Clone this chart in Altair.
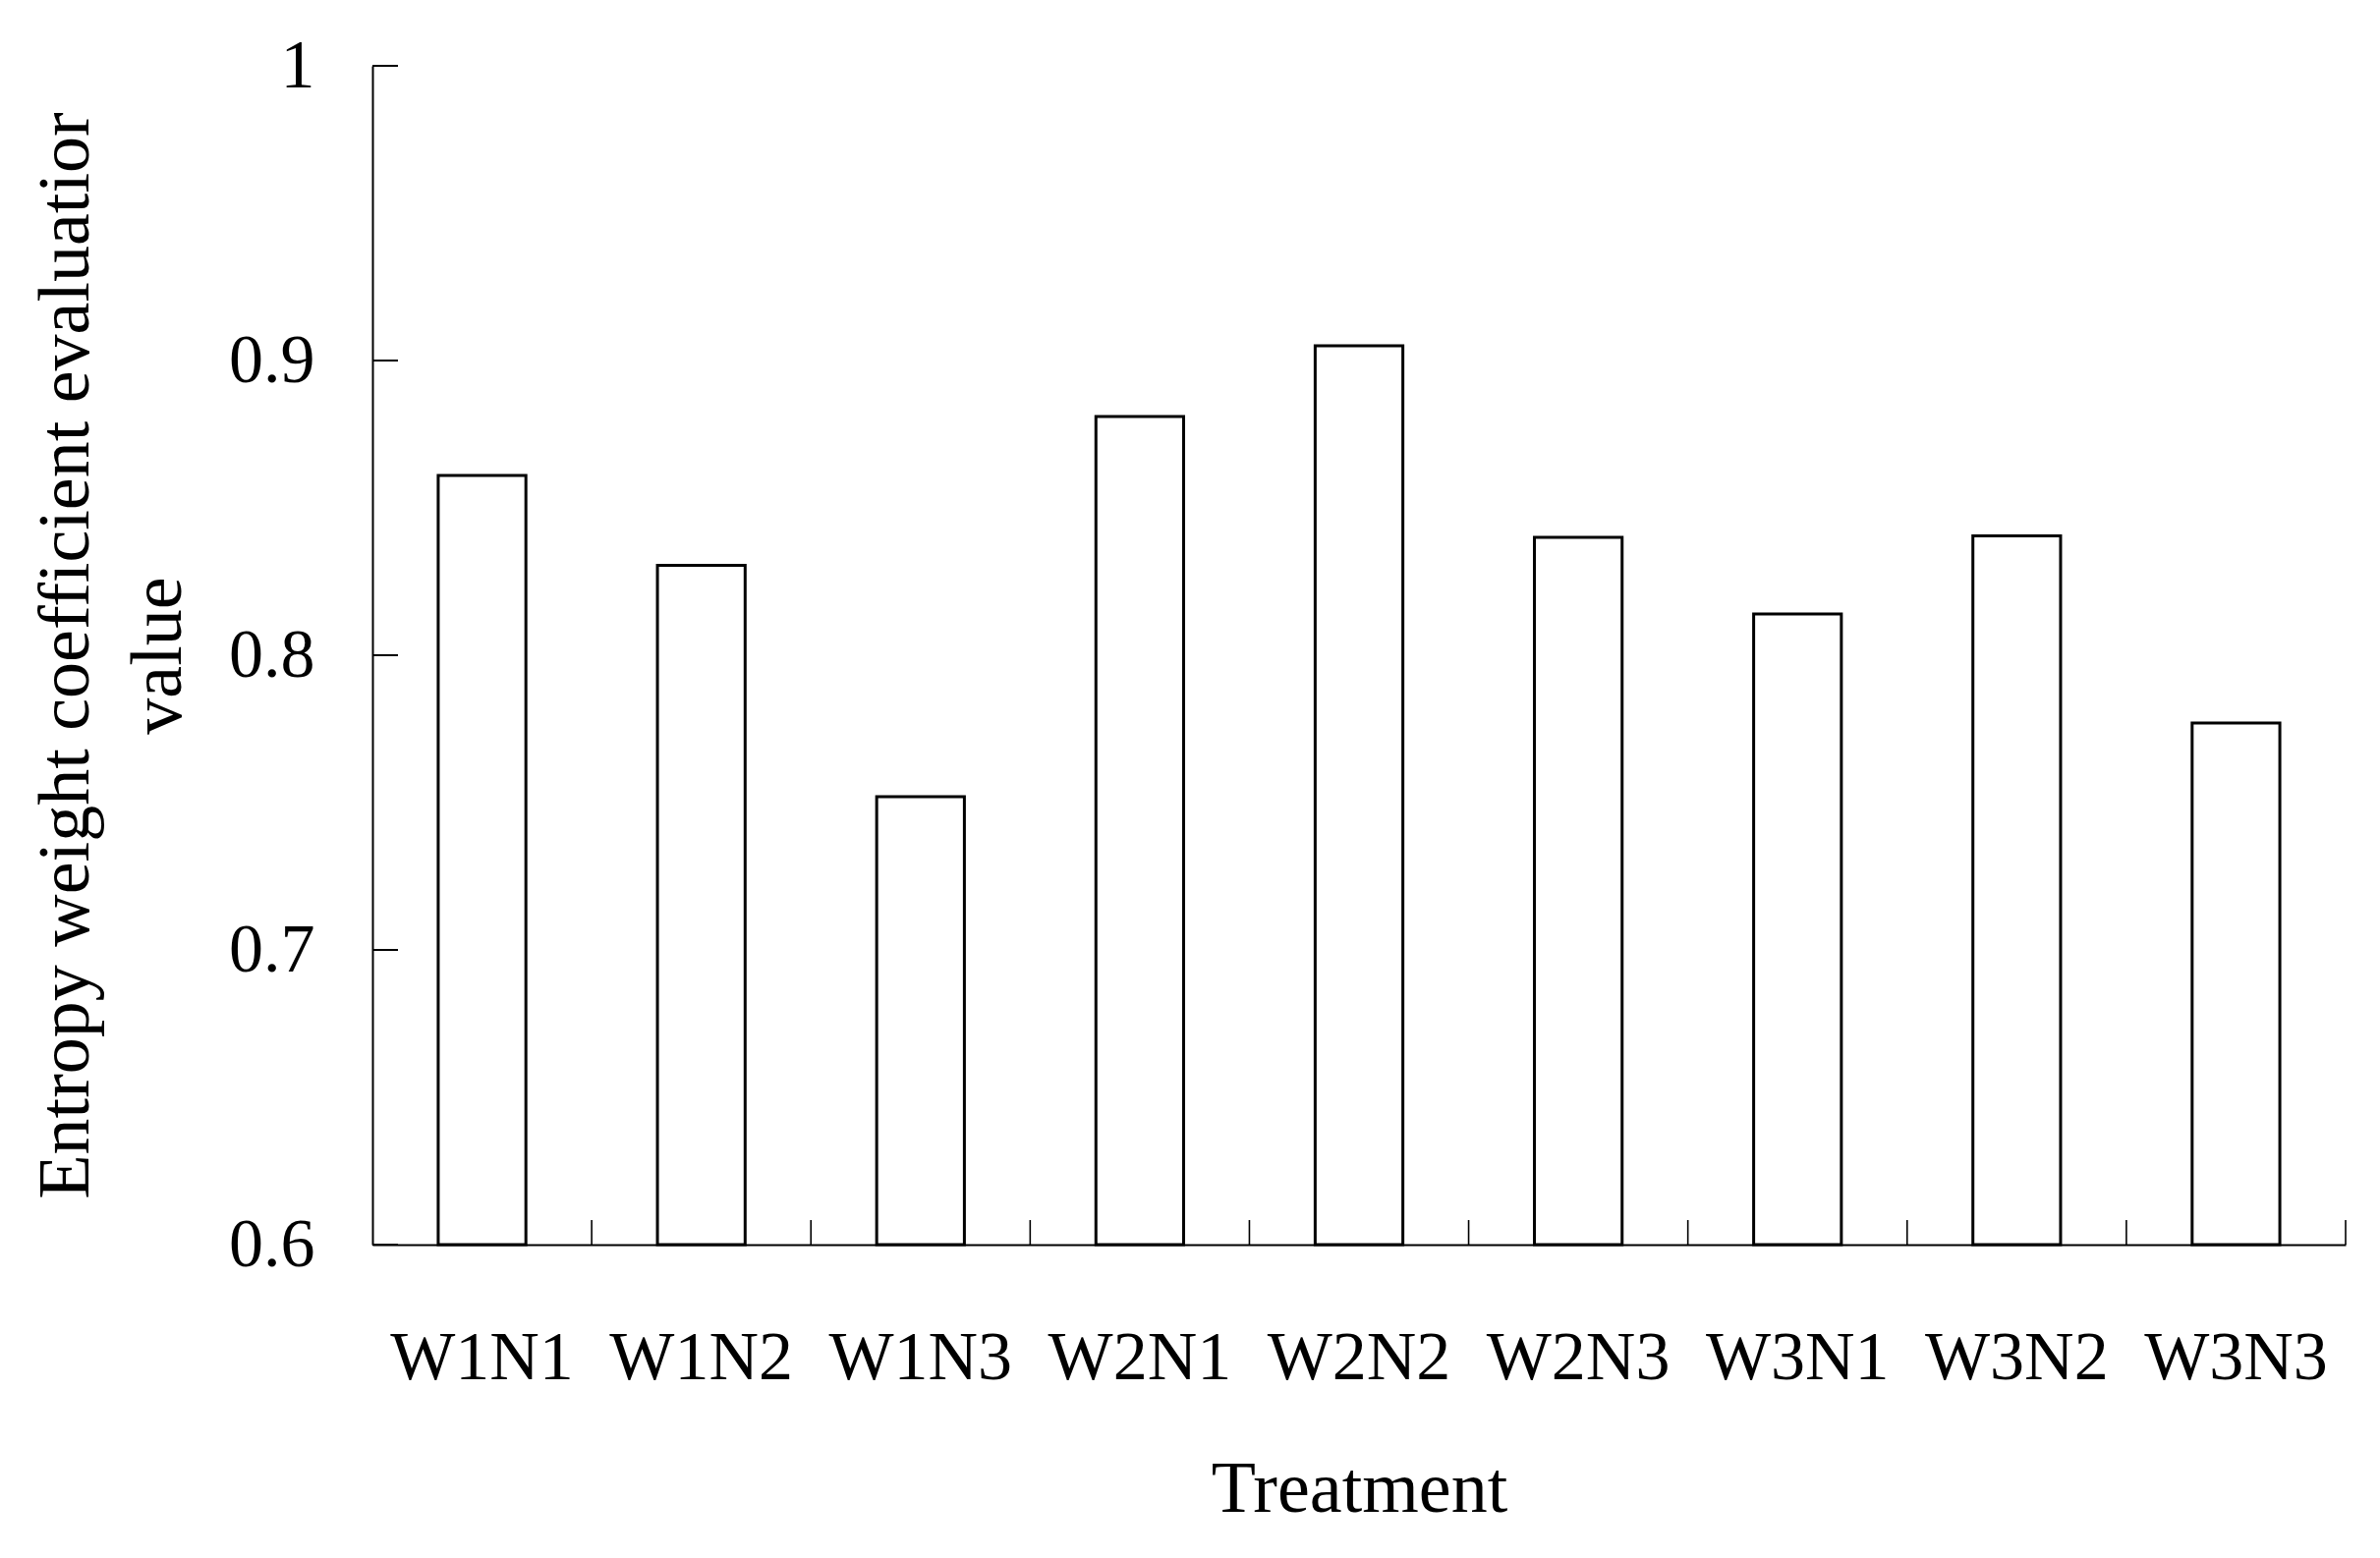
import altair as alt
import pandas as pd

treatments = ["W1N1", "W1N2", "W1N3", "W2N1", "W2N2", "W2N3", "W3N1", "W3N2", "W3N3"]
values = [0.861, 0.8305, 0.752, 0.881, 0.905, 0.840, 0.814, 0.8405, 0.777]
y_ticks = [0.6, 0.7, 0.8, 0.9, 1.0]
y_min, y_max = 0.6, 1.0

x_title = "Treatment"
y_title = ["Entropy weight coefficient evaluatior", "value"]

df = pd.DataFrame({"Treatment": treatments, "Value": values})
tick_df = pd.DataFrame({"Value": y_ticks})

FONT = "Liberation Serif"

x_scale = alt.Scale(domain=treatments, paddingInner=0, paddingOuter=0)
y_scale = alt.Scale(domain=[y_min, y_max], zero=False, nice=False)

x_axis = alt.Axis(title=x_title, labelAngle=0, ticks=False, tickSize=0,
                  labelPadding=136, labelBaseline="alphabetic", labelLimit=0,
                  labelFontSize=70, titleFontSize=74,
                  titleBaseline="alphabetic", titleY=271,
                  domainColor="black", domainWidth=2,
                  labelColor="black", titleColor="black",
                  labelFont=FONT, titleFont=FONT,
                  titleFontWeight="normal", grid=False)

y_axis = alt.Axis(title=y_title, values=y_ticks, ticks=False, tickSize=0,
                  labelExpr="datum.value >= 0.999 ? '1' : format(datum.value, '.1f')",
                  labelPadding=59, labelFontSize=70, titleFontSize=74, labelLimit=0,
                  titleBaseline="alphabetic", titleX=-290, titleY=600,
                  titleAngle=270, titleAlign="center", titleLineHeight=94,
                  titleLimit=0,
                  domainColor="black", domainWidth=2,
                  labelColor="black", titleColor="black",
                  labelFont=FONT, titleFont=FONT,
                  titleFontWeight="normal", grid=False, labelOverlap=False)

bars = alt.Chart(df).mark_bar(
    width={"band": 0.4}, fill="white", stroke="black", strokeWidth=3
).encode(
    x=alt.X("Treatment:N", scale=x_scale, sort=treatments, axis=x_axis),
    y=alt.Y("Value:Q", scale=y_scale, axis=y_axis),
    y2=alt.datum(y_min),
)

yticks = alt.Chart(tick_df).mark_rule(color="black", strokeWidth=2).encode(
    y=alt.Y("Value:Q", scale=y_scale, axis=y_axis),
    x=alt.value(0),
    x2=alt.value(26),
)

xticks = alt.Chart(df).mark_rule(color="black", strokeWidth=1.6).encode(
    x=alt.X("Treatment:N", scale=x_scale, sort=treatments, bandPosition=1, axis=x_axis),
    y=alt.value(1200 - 25),
    y2=alt.value(1200),
)

chart = alt.layer(bars, yticks, xticks).properties(
    width=2008,
    height=1200,
    padding={"left": 371, "top": 59, "right": 27, "bottom": 311},
    autosize=alt.AutoSizeParams(type="none"),
    background="white",
).configure_view(stroke=None)

chart.save("out.html", embed_options={"renderer": "svg", "actions": False})
